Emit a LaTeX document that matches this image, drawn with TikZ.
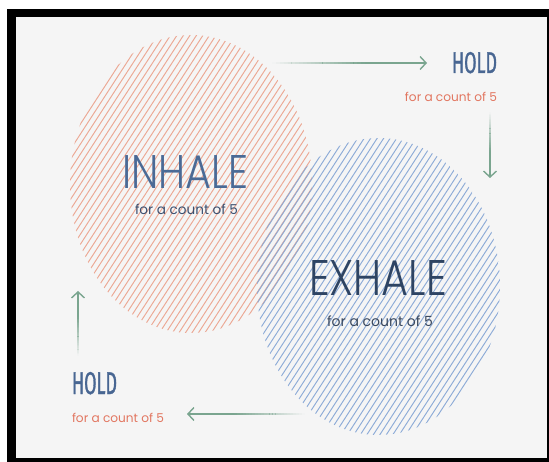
\documentclass[tikz,border=0pt]{standalone}
\usepackage{fontspec}
\setmainfont{Poppins}
\newfontfamily\thinf{Poppins Light}
\newfontfamily\holdf{Fira Sans}[FakeStretch=0.72,FakeBold=1.2]
\usetikzlibrary{arrows.meta,calc}
\definecolor{bg}{HTML}{F5F5F5}
\definecolor{hatchred}{RGB}{236,168,148}
\definecolor{hatchblue}{RGB}{136,168,214}
\definecolor{arrgreen}{RGB}{122,165,143}
\definecolor{holdblue}{RGB}{72,102,146}
\definecolor{salmon}{RGB}{226,118,96}
\definecolor{inblue}{RGB}{74,106,150}
\definecolor{insub}{RGB}{60,80,112}
\definecolor{exblue}{RGB}{46,68,99}
\definecolor{exsub}{RGB}{58,72,94}
\tikzset{
  txt/.style={inner sep=0pt, outer sep=0pt},
  redhatch/.style={draw=hatchred, line width=0.95pt},
  bluehatch/.style={draw=hatchblue, line width=0.95pt, opacity=0.95},
  arr/.style={draw=arrgreen, line width=1.4pt, -{Straight Barb[length=6pt,width=13pt,line width=1.4pt]}},
  fadeseg/.style={draw=arrgreen, line width=1.4pt, line cap=butt},
}
\begin{document}
\begin{tikzpicture}[x=1pt,y=-1pt]
\useasboundingbox (0,0) rectangle (549,462);
\fill[white] (0,0) rectangle (549,462);
\fill[black] (7,9) rectangle (549,462);
\fill[bg] (16,17) rectangle (547,458);

% red hatched ellipse
\coordinate (rc) at (191,184);
\begin{scope}
\clip (rc) ellipse [x radius=121, y radius=149];
\foreach \k in {-42,...,42}
  \draw[redhatch] ($(rc)+(\k*6.5,0)+(-109,168)$) -- ++(218,-336);
\end{scope}
% blue hatched ellipse
\coordinate (bc) at (378.5,286.5);
\begin{scope}
\clip (bc) ellipse [x radius=121.5, y radius=148.5];
\foreach \k in {-42,...,42}
  \draw[bluehatch] ($(bc)+(\k*6.5,0)+(-109,168)$) -- ++(218,-336);
\end{scope}

% texts
\node[txt, anchor=base west, text=inblue] (inhale) at (122,189) {\resizebox{126pt}{33pt}{\thinf INHALE}};
\node[txt, anchor=base west, text=insub] (inhalesub) at (135,215) {\resizebox{103pt}{!}{for a count of 5}};
\node[txt, anchor=base west, text=exblue] (exhale) at (309,296) {\resizebox{138pt}{35pt}{\thinf EXHALE}};
\node[txt, anchor=base west, text=exsub] (exhalesub) at (327,327) {\resizebox{106pt}{!}{for a count of 5}};
\node[txt, anchor=base east, text=holdblue] (holdA) at (497,73) {\resizebox{45pt}{21pt}{\holdf HOLD}};
\node[txt, anchor=base east, text=salmon] (holdAsub) at (497,102) {\resizebox{92pt}{!}{for a count of 5}};
\node[txt, anchor=base west, text=holdblue] (holdB) at (72,394) {\resizebox{45pt}{22pt}{\holdf HOLD}};
\node[txt, anchor=base west, text=salmon] (holdBsub) at (72,422) {\resizebox{92pt}{!}{for a count of 5}};

% arrows (tail fades out)
\coordinate (t1) at (272,63);  \coordinate (h1) at (427,63);
\coordinate (t2) at (490,112); \coordinate (h2) at (490,178);
\coordinate (t3) at (305,414); \coordinate (h3) at (187,414);
\coordinate (t4) at (78,356);  \coordinate (h4) at (78,291);
\foreach \t/\h in {t1/h1,t2/h2,t3/h3,t4/h4}{
  \foreach \i [evaluate=\i as \o using (\i+0.5)/24,
               evaluate=\i as \s using \i/40,
               evaluate=\i as \e using (\i+1.05)/40] in {0,...,23}
    \draw[fadeseg, opacity=\o] ($(\t)!\s!(\h)$) -- ($(\t)!\e!(\h)$);
  \draw[arr] ($(\t)!0.6!(\h)$) -- (\h);
}
\end{tikzpicture}
\end{document}
